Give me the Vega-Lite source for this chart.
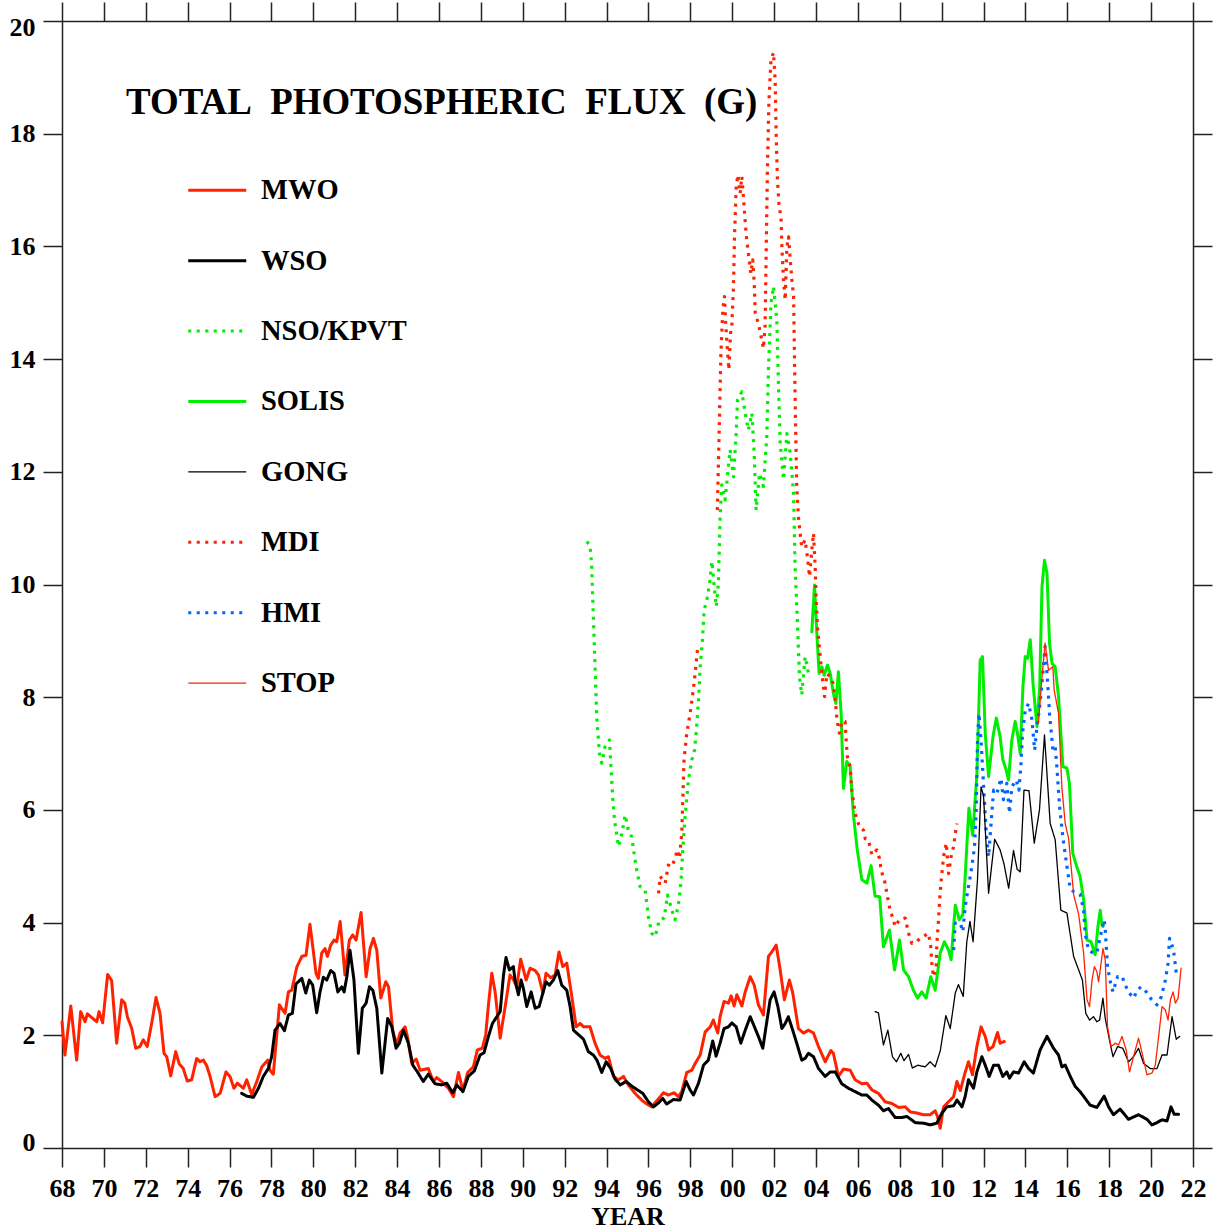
{
"$schema":"https://vega.github.io/schema/vega-lite/v6.json",
"width":1131,"height":1127,
"autosize":{"type":"none"},
"padding":{"left":62,"top":21,"right":25,"bottom":84},
"background":"white",
"title":{"text":"TOTAL\u00a0 PHOTOSPHERIC\u00a0 FLUX\u00a0 (G)","anchor":"start","frame":"group","orient":"top","offset":0,"dx":64,"dy":150,"fontSize":36.9,"font":"Liberation Serif","fontWeight":"bold","color":"#000","baseline":"alphabetic"},
"config":{
"view":{"stroke":null},
"font":"Liberation Serif",
"axis":{"grid":false,"domainColor":"#222","domainWidth":1.5,"tickColor":"#222","tickWidth":1.5,"tickSize":19,"labelFont":"Liberation Serif","labelFontWeight":"bold","labelFontSize":26,"labelColor":"#000","titleFont":"Liberation Serif","titleFontWeight":"bold","titleFontSize":26,"titleColor":"#000","labelFlush":false,"labelOverlap":false},
"legend":{"orient":"none","legendX":126,"legendY":155,"title":null,"symbolType":"stroke","symbolSize":3364,"symbolOffset":15,"labelFont":"Liberation Serif","labelFontWeight":"bold","labelFontSize":28.5,"labelColor":"#000","labelOffset":29.5,"rowPadding":41.4,"padding":0,"labelLimit":400}
},
"data":{"values":[
{"s":"MWO","t":1968.0,"v":2.24},{"s":"MWO","t":1968.14,"v":1.65},{"s":"MWO","t":1968.42,"v":2.52},{"s":"MWO","t":1968.7,"v":1.56},{"s":"MWO","t":1968.89,"v":2.42},{"s":"MWO","t":1969.1,"v":2.24},{"s":"MWO","t":1969.21,"v":2.38},{"s":"MWO","t":1969.66,"v":2.24},{"s":"MWO","t":1969.77,"v":2.42},{"s":"MWO","t":1969.94,"v":2.22},{"s":"MWO","t":1970.18,"v":3.08},{"s":"MWO","t":1970.37,"v":2.97},{"s":"MWO","t":1970.61,"v":1.86},{"s":"MWO","t":1970.85,"v":2.63},{"s":"MWO","t":1971.0,"v":2.57},{"s":"MWO","t":1971.12,"v":2.33},{"s":"MWO","t":1971.33,"v":2.12},{"s":"MWO","t":1971.52,"v":1.77},{"s":"MWO","t":1971.72,"v":1.8},{"s":"MWO","t":1971.88,"v":1.92},{"s":"MWO","t":1972.07,"v":1.8},{"s":"MWO","t":1972.28,"v":2.21},{"s":"MWO","t":1972.49,"v":2.67},{"s":"MWO","t":1972.68,"v":2.39},{"s":"MWO","t":1972.87,"v":1.68},{"s":"MWO","t":1973.0,"v":1.62},{"s":"MWO","t":1973.19,"v":1.28},{"s":"MWO","t":1973.43,"v":1.71},{"s":"MWO","t":1973.6,"v":1.49},{"s":"MWO","t":1973.79,"v":1.41},{"s":"MWO","t":1973.98,"v":1.19},{"s":"MWO","t":1974.19,"v":1.21},{"s":"MWO","t":1974.43,"v":1.59},{"s":"MWO","t":1974.59,"v":1.53},{"s":"MWO","t":1974.75,"v":1.56},{"s":"MWO","t":1974.91,"v":1.46},{"s":"MWO","t":1975.07,"v":1.27},{"s":"MWO","t":1975.31,"v":0.91},{"s":"MWO","t":1975.55,"v":0.97},{"s":"MWO","t":1975.83,"v":1.35},{"s":"MWO","t":1976.02,"v":1.27},{"s":"MWO","t":1976.21,"v":1.06},{"s":"MWO","t":1976.37,"v":1.15},{"s":"MWO","t":1976.66,"v":1.06},{"s":"MWO","t":1976.82,"v":1.21},{"s":"MWO","t":1977.06,"v":0.95},{"s":"MWO","t":1977.3,"v":1.18},{"s":"MWO","t":1977.54,"v":1.44},{"s":"MWO","t":1977.82,"v":1.56},{"s":"MWO","t":1977.93,"v":1.38},{"s":"MWO","t":1978.09,"v":1.31},{"s":"MWO","t":1978.38,"v":2.54},{"s":"MWO","t":1978.65,"v":2.39},{"s":"MWO","t":1978.81,"v":2.77},{"s":"MWO","t":1978.97,"v":2.8},{"s":"MWO","t":1979.21,"v":3.21},{"s":"MWO","t":1979.45,"v":3.4},{"s":"MWO","t":1979.65,"v":3.42},{"s":"MWO","t":1979.84,"v":3.97},{"s":"MWO","t":1980.13,"v":3.1},{"s":"MWO","t":1980.24,"v":3.01},{"s":"MWO","t":1980.4,"v":3.46},{"s":"MWO","t":1980.56,"v":3.54},{"s":"MWO","t":1980.67,"v":3.4},{"s":"MWO","t":1980.83,"v":3.6},{"s":"MWO","t":1980.99,"v":3.69},{"s":"MWO","t":1981.12,"v":3.66},{"s":"MWO","t":1981.28,"v":4.02},{"s":"MWO","t":1981.51,"v":3.07},{"s":"MWO","t":1981.72,"v":3.69},{"s":"MWO","t":1981.88,"v":3.78},{"s":"MWO","t":1982.04,"v":3.69},{"s":"MWO","t":1982.28,"v":4.18},{"s":"MWO","t":1982.52,"v":3.04},{"s":"MWO","t":1982.71,"v":3.54},{"s":"MWO","t":1982.87,"v":3.72},{"s":"MWO","t":1983.03,"v":3.51},{"s":"MWO","t":1983.22,"v":2.66},{"s":"MWO","t":1983.46,"v":2.95},{"s":"MWO","t":1983.59,"v":2.86},{"s":"MWO","t":1983.79,"v":2.09},{"s":"MWO","t":1983.98,"v":1.83},{"s":"MWO","t":1984.14,"v":2.04},{"s":"MWO","t":1984.38,"v":2.15},{"s":"MWO","t":1984.49,"v":1.98},{"s":"MWO","t":1984.7,"v":1.5},{"s":"MWO","t":1984.91,"v":1.58},{"s":"MWO","t":1985.1,"v":1.38},{"s":"MWO","t":1985.49,"v":1.41},{"s":"MWO","t":1985.73,"v":1.18},{"s":"MWO","t":1985.89,"v":1.25},{"s":"MWO","t":1986.13,"v":1.18},{"s":"MWO","t":1986.45,"v":1.06},{"s":"MWO","t":1986.69,"v":0.91},{"s":"MWO","t":1986.93,"v":1.34},{"s":"MWO","t":1987.14,"v":1.02},{"s":"MWO","t":1987.37,"v":1.34},{"s":"MWO","t":1987.64,"v":1.44},{"s":"MWO","t":1987.83,"v":1.74},{"s":"MWO","t":1988.07,"v":1.77},{"s":"MWO","t":1988.23,"v":2.01},{"s":"MWO","t":1988.36,"v":2.54},{"s":"MWO","t":1988.52,"v":3.1},{"s":"MWO","t":1988.68,"v":2.77},{"s":"MWO","t":1988.92,"v":1.95},{"s":"MWO","t":1989.16,"v":2.51},{"s":"MWO","t":1989.39,"v":3.07},{"s":"MWO","t":1989.55,"v":2.99},{"s":"MWO","t":1989.71,"v":2.86},{"s":"MWO","t":1989.9,"v":3.35},{"s":"MWO","t":1990.16,"v":2.98},{"s":"MWO","t":1990.35,"v":3.19},{"s":"MWO","t":1990.59,"v":3.15},{"s":"MWO","t":1990.75,"v":3.07},{"s":"MWO","t":1990.96,"v":2.75},{"s":"MWO","t":1991.11,"v":3.1},{"s":"MWO","t":1991.34,"v":3.02},{"s":"MWO","t":1991.54,"v":3.07},{"s":"MWO","t":1991.73,"v":3.48},{"s":"MWO","t":1991.91,"v":3.22},{"s":"MWO","t":1992.1,"v":3.28},{"s":"MWO","t":1992.34,"v":2.69},{"s":"MWO","t":1992.55,"v":2.15},{"s":"MWO","t":1992.74,"v":2.21},{"s":"MWO","t":1992.9,"v":2.15},{"s":"MWO","t":1993.21,"v":2.15},{"s":"MWO","t":1993.45,"v":1.86},{"s":"MWO","t":1993.69,"v":1.65},{"s":"MWO","t":1993.93,"v":1.59},{"s":"MWO","t":1994.09,"v":1.62},{"s":"MWO","t":1994.33,"v":1.27},{"s":"MWO","t":1994.57,"v":1.21},{"s":"MWO","t":1994.81,"v":1.27},{"s":"MWO","t":1995.04,"v":1.12},{"s":"MWO","t":1995.36,"v":0.97},{"s":"MWO","t":1995.68,"v":0.85},{"s":"MWO","t":1995.92,"v":0.78},{"s":"MWO","t":1996.16,"v":0.73},{"s":"MWO","t":1996.4,"v":0.84},{"s":"MWO","t":1996.72,"v":0.98},{"s":"MWO","t":1996.95,"v":0.94},{"s":"MWO","t":1997.23,"v":0.98},{"s":"MWO","t":1997.43,"v":0.91},{"s":"MWO","t":1997.59,"v":1.0},{"s":"MWO","t":1997.83,"v":1.34},{"s":"MWO","t":1998.07,"v":1.38},{"s":"MWO","t":1998.23,"v":1.5},{"s":"MWO","t":1998.47,"v":1.65},{"s":"MWO","t":1998.71,"v":2.06},{"s":"MWO","t":1998.95,"v":2.15},{"s":"MWO","t":1999.1,"v":2.27},{"s":"MWO","t":1999.31,"v":2.04},{"s":"MWO","t":1999.42,"v":2.33},{"s":"MWO","t":1999.61,"v":2.6},{"s":"MWO","t":1999.82,"v":2.57},{"s":"MWO","t":1999.95,"v":2.7},{"s":"MWO","t":2000.09,"v":2.52},{"s":"MWO","t":2000.22,"v":2.72},{"s":"MWO","t":2000.46,"v":2.52},{"s":"MWO","t":2000.62,"v":2.77},{"s":"MWO","t":2000.86,"v":3.04},{"s":"MWO","t":2001.05,"v":2.89},{"s":"MWO","t":2001.25,"v":2.54},{"s":"MWO","t":2001.49,"v":2.36},{"s":"MWO","t":2001.73,"v":3.4},{"s":"MWO","t":2001.89,"v":3.48},{"s":"MWO","t":2002.1,"v":3.6},{"s":"MWO","t":2002.29,"v":3.16},{"s":"MWO","t":2002.49,"v":2.63},{"s":"MWO","t":2002.73,"v":2.98},{"s":"MWO","t":2002.89,"v":2.75},{"s":"MWO","t":2003.16,"v":2.12},{"s":"MWO","t":2003.4,"v":2.04},{"s":"MWO","t":2003.64,"v":2.09},{"s":"MWO","t":2003.88,"v":2.04},{"s":"MWO","t":2004.12,"v":1.8},{"s":"MWO","t":2004.44,"v":1.53},{"s":"MWO","t":2004.71,"v":1.73},{"s":"MWO","t":2004.83,"v":1.68},{"s":"MWO","t":2005.07,"v":1.27},{"s":"MWO","t":2005.31,"v":1.4},{"s":"MWO","t":2005.63,"v":1.38},{"s":"MWO","t":2005.87,"v":1.21},{"s":"MWO","t":2006.19,"v":1.14},{"s":"MWO","t":2006.43,"v":1.15},{"s":"MWO","t":2006.67,"v":1.03},{"s":"MWO","t":2006.98,"v":0.97},{"s":"MWO","t":2007.3,"v":0.82},{"s":"MWO","t":2007.62,"v":0.79},{"s":"MWO","t":2007.94,"v":0.72},{"s":"MWO","t":2008.26,"v":0.73},{"s":"MWO","t":2008.5,"v":0.64},{"s":"MWO","t":2008.82,"v":0.62},{"s":"MWO","t":2009.13,"v":0.59},{"s":"MWO","t":2009.45,"v":0.59},{"s":"MWO","t":2009.69,"v":0.66},{"s":"MWO","t":2009.8,"v":0.56},{"s":"MWO","t":2009.93,"v":0.35},{"s":"MWO","t":2010.09,"v":0.73},{"s":"MWO","t":2010.33,"v":0.82},{"s":"MWO","t":2010.57,"v":0.91},{"s":"MWO","t":2010.73,"v":1.18},{"s":"MWO","t":2010.89,"v":1.02},{"s":"MWO","t":2011.12,"v":1.34},{"s":"MWO","t":2011.28,"v":1.53},{"s":"MWO","t":2011.47,"v":1.3},{"s":"MWO","t":2011.68,"v":1.8},{"s":"MWO","t":2011.88,"v":2.15},{"s":"MWO","t":2012.08,"v":1.98},{"s":"MWO","t":2012.24,"v":1.74},{"s":"MWO","t":2012.45,"v":1.8},{"s":"MWO","t":2012.67,"v":2.05},{"s":"MWO","t":2012.79,"v":1.86},{"s":"MWO","t":2012.99,"v":1.89},
{"s":"WSO","t":1976.58,"v":0.97},{"s":"WSO","t":1976.82,"v":0.92},{"s":"WSO","t":1977.14,"v":0.9},{"s":"WSO","t":1977.38,"v":1.06},{"s":"WSO","t":1977.61,"v":1.27},{"s":"WSO","t":1977.85,"v":1.41},{"s":"WSO","t":1978.01,"v":1.62},{"s":"WSO","t":1978.17,"v":2.09},{"s":"WSO","t":1978.41,"v":2.21},{"s":"WSO","t":1978.62,"v":2.08},{"s":"WSO","t":1978.81,"v":2.36},{"s":"WSO","t":1979.0,"v":2.39},{"s":"WSO","t":1979.17,"v":2.91},{"s":"WSO","t":1979.45,"v":3.01},{"s":"WSO","t":1979.64,"v":2.75},{"s":"WSO","t":1979.81,"v":2.98},{"s":"WSO","t":1979.97,"v":2.89},{"s":"WSO","t":1980.16,"v":2.4},{"s":"WSO","t":1980.32,"v":2.77},{"s":"WSO","t":1980.48,"v":3.03},{"s":"WSO","t":1980.64,"v":2.98},{"s":"WSO","t":1980.83,"v":3.15},{"s":"WSO","t":1980.99,"v":3.1},{"s":"WSO","t":1981.17,"v":2.77},{"s":"WSO","t":1981.36,"v":2.86},{"s":"WSO","t":1981.47,"v":2.77},{"s":"WSO","t":1981.6,"v":3.04},{"s":"WSO","t":1981.75,"v":3.51},{"s":"WSO","t":1981.94,"v":2.98},{"s":"WSO","t":1982.15,"v":1.68},{"s":"WSO","t":1982.34,"v":2.48},{"s":"WSO","t":1982.52,"v":2.57},{"s":"WSO","t":1982.68,"v":2.86},{"s":"WSO","t":1982.84,"v":2.8},{"s":"WSO","t":1983.03,"v":2.48},{"s":"WSO","t":1983.27,"v":1.33},{"s":"WSO","t":1983.55,"v":2.3},{"s":"WSO","t":1983.75,"v":2.15},{"s":"WSO","t":1983.95,"v":1.77},{"s":"WSO","t":1984.11,"v":1.86},{"s":"WSO","t":1984.3,"v":2.09},{"s":"WSO","t":1984.54,"v":1.86},{"s":"WSO","t":1984.75,"v":1.47},{"s":"WSO","t":1984.97,"v":1.35},{"s":"WSO","t":1985.25,"v":1.18},{"s":"WSO","t":1985.49,"v":1.31},{"s":"WSO","t":1985.81,"v":1.14},{"s":"WSO","t":1986.13,"v":1.12},{"s":"WSO","t":1986.37,"v":1.15},{"s":"WSO","t":1986.66,"v":0.98},{"s":"WSO","t":1986.85,"v":1.12},{"s":"WSO","t":1987.14,"v":1.0},{"s":"WSO","t":1987.4,"v":1.27},{"s":"WSO","t":1987.69,"v":1.37},{"s":"WSO","t":1987.96,"v":1.65},{"s":"WSO","t":1988.15,"v":1.69},{"s":"WSO","t":1988.36,"v":1.98},{"s":"WSO","t":1988.55,"v":2.21},{"s":"WSO","t":1988.76,"v":2.33},{"s":"WSO","t":1988.92,"v":2.42},{"s":"WSO","t":1989.08,"v":3.07},{"s":"WSO","t":1989.2,"v":3.38},{"s":"WSO","t":1989.36,"v":3.16},{"s":"WSO","t":1989.55,"v":3.22},{"s":"WSO","t":1989.63,"v":2.98},{"s":"WSO","t":1989.79,"v":2.72},{"s":"WSO","t":1989.92,"v":2.98},{"s":"WSO","t":1990.03,"v":2.83},{"s":"WSO","t":1990.19,"v":2.51},{"s":"WSO","t":1990.4,"v":2.77},{"s":"WSO","t":1990.59,"v":2.48},{"s":"WSO","t":1990.78,"v":2.51},{"s":"WSO","t":1990.96,"v":2.75},{"s":"WSO","t":1991.11,"v":2.95},{"s":"WSO","t":1991.27,"v":2.89},{"s":"WSO","t":1991.46,"v":2.98},{"s":"WSO","t":1991.67,"v":3.15},{"s":"WSO","t":1991.86,"v":2.89},{"s":"WSO","t":1992.1,"v":2.8},{"s":"WSO","t":1992.26,"v":2.51},{"s":"WSO","t":1992.42,"v":2.09},{"s":"WSO","t":1992.66,"v":2.01},{"s":"WSO","t":1992.9,"v":1.93},{"s":"WSO","t":1993.13,"v":1.71},{"s":"WSO","t":1993.37,"v":1.65},{"s":"WSO","t":1993.54,"v":1.56},{"s":"WSO","t":1993.77,"v":1.34},{"s":"WSO","t":1993.98,"v":1.53},{"s":"WSO","t":1994.2,"v":1.41},{"s":"WSO","t":1994.41,"v":1.22},{"s":"WSO","t":1994.65,"v":1.12},{"s":"WSO","t":1994.93,"v":1.18},{"s":"WSO","t":1995.2,"v":1.1},{"s":"WSO","t":1995.44,"v":1.04},{"s":"WSO","t":1995.73,"v":0.97},{"s":"WSO","t":1996.0,"v":0.82},{"s":"WSO","t":1996.24,"v":0.73},{"s":"WSO","t":1996.48,"v":0.8},{"s":"WSO","t":1996.68,"v":0.88},{"s":"WSO","t":1996.87,"v":0.78},{"s":"WSO","t":1997.19,"v":0.86},{"s":"WSO","t":1997.51,"v":0.85},{"s":"WSO","t":1997.8,"v":1.18},{"s":"WSO","t":1997.99,"v":1.03},{"s":"WSO","t":1998.15,"v":0.94},{"s":"WSO","t":1998.39,"v":1.15},{"s":"WSO","t":1998.63,"v":1.47},{"s":"WSO","t":1998.86,"v":1.56},{"s":"WSO","t":1999.07,"v":1.9},{"s":"WSO","t":1999.23,"v":1.63},{"s":"WSO","t":1999.42,"v":1.86},{"s":"WSO","t":1999.61,"v":2.12},{"s":"WSO","t":1999.82,"v":2.15},{"s":"WSO","t":1999.98,"v":2.22},{"s":"WSO","t":2000.19,"v":2.15},{"s":"WSO","t":2000.41,"v":1.86},{"s":"WSO","t":2000.62,"v":2.09},{"s":"WSO","t":2000.86,"v":2.33},{"s":"WSO","t":2001.06,"v":2.15},{"s":"WSO","t":2001.25,"v":1.98},{"s":"WSO","t":2001.46,"v":1.77},{"s":"WSO","t":2001.65,"v":2.24},{"s":"WSO","t":2001.81,"v":2.63},{"s":"WSO","t":2002.0,"v":2.77},{"s":"WSO","t":2002.18,"v":2.51},{"s":"WSO","t":2002.37,"v":2.12},{"s":"WSO","t":2002.53,"v":2.21},{"s":"WSO","t":2002.68,"v":2.33},{"s":"WSO","t":2002.89,"v":2.09},{"s":"WSO","t":2003.08,"v":1.86},{"s":"WSO","t":2003.32,"v":1.56},{"s":"WSO","t":2003.48,"v":1.59},{"s":"WSO","t":2003.64,"v":1.68},{"s":"WSO","t":2003.88,"v":1.62},{"s":"WSO","t":2004.12,"v":1.41},{"s":"WSO","t":2004.44,"v":1.27},{"s":"WSO","t":2004.68,"v":1.35},{"s":"WSO","t":2004.92,"v":1.35},{"s":"WSO","t":2005.23,"v":1.14},{"s":"WSO","t":2005.55,"v":1.06},{"s":"WSO","t":2005.87,"v":1.0},{"s":"WSO","t":2006.19,"v":0.94},{"s":"WSO","t":2006.43,"v":0.94},{"s":"WSO","t":2006.67,"v":0.85},{"s":"WSO","t":2006.98,"v":0.76},{"s":"WSO","t":2007.22,"v":0.66},{"s":"WSO","t":2007.46,"v":0.7},{"s":"WSO","t":2007.78,"v":0.54},{"s":"WSO","t":2008.1,"v":0.54},{"s":"WSO","t":2008.34,"v":0.56},{"s":"WSO","t":2008.74,"v":0.45},{"s":"WSO","t":2009.13,"v":0.44},{"s":"WSO","t":2009.45,"v":0.41},{"s":"WSO","t":2009.77,"v":0.44},{"s":"WSO","t":2010.01,"v":0.62},{"s":"WSO","t":2010.25,"v":0.73},{"s":"WSO","t":2010.57,"v":0.75},{"s":"WSO","t":2010.73,"v":0.85},{"s":"WSO","t":2010.97,"v":0.73},{"s":"WSO","t":2011.12,"v":0.91},{"s":"WSO","t":2011.28,"v":1.21},{"s":"WSO","t":2011.52,"v":1.06},{"s":"WSO","t":2011.68,"v":1.35},{"s":"WSO","t":2011.92,"v":1.62},{"s":"WSO","t":2012.08,"v":1.47},{"s":"WSO","t":2012.27,"v":1.27},{"s":"WSO","t":2012.48,"v":1.47},{"s":"WSO","t":2012.71,"v":1.47},{"s":"WSO","t":2012.92,"v":1.27},{"s":"WSO","t":2013.11,"v":1.35},{"s":"WSO","t":2013.24,"v":1.24},{"s":"WSO","t":2013.43,"v":1.35},{"s":"WSO","t":2013.67,"v":1.33},{"s":"WSO","t":2013.94,"v":1.53},{"s":"WSO","t":2014.15,"v":1.41},{"s":"WSO","t":2014.38,"v":1.33},{"s":"WSO","t":2014.7,"v":1.74},{"s":"WSO","t":2015.03,"v":1.98},{"s":"WSO","t":2015.34,"v":1.77},{"s":"WSO","t":2015.58,"v":1.65},{"s":"WSO","t":2015.74,"v":1.44},{"s":"WSO","t":2015.9,"v":1.47},{"s":"WSO","t":2016.14,"v":1.27},{"s":"WSO","t":2016.38,"v":1.09},{"s":"WSO","t":2016.61,"v":1.0},{"s":"WSO","t":2016.85,"v":0.88},{"s":"WSO","t":2017.09,"v":0.76},{"s":"WSO","t":2017.41,"v":0.72},{"s":"WSO","t":2017.76,"v":0.92},{"s":"WSO","t":2017.97,"v":0.73},{"s":"WSO","t":2018.2,"v":0.59},{"s":"WSO","t":2018.52,"v":0.69},{"s":"WSO","t":2018.92,"v":0.51},{"s":"WSO","t":2019.4,"v":0.59},{"s":"WSO","t":2019.8,"v":0.51},{"s":"WSO","t":2020.04,"v":0.41},{"s":"WSO","t":2020.28,"v":0.45},{"s":"WSO","t":2020.52,"v":0.5},{"s":"WSO","t":2020.76,"v":0.48},{"s":"WSO","t":2020.95,"v":0.73},{"s":"WSO","t":2021.1,"v":0.6},{"s":"WSO","t":2021.31,"v":0.6},
{"s":"NSO/KPVT","t":1993.05,"v":10.76},{"s":"NSO/KPVT","t":1993.21,"v":10.7},{"s":"NSO/KPVT","t":1993.29,"v":10.32},{"s":"NSO/KPVT","t":1993.37,"v":9.43},{"s":"NSO/KPVT","t":1993.45,"v":8.54},{"s":"NSO/KPVT","t":1993.53,"v":7.65},{"s":"NSO/KPVT","t":1993.66,"v":7.0},{"s":"NSO/KPVT","t":1993.77,"v":6.83},{"s":"NSO/KPVT","t":1993.93,"v":7.12},{"s":"NSO/KPVT","t":1994.14,"v":7.24},{"s":"NSO/KPVT","t":1994.2,"v":6.83},{"s":"NSO/KPVT","t":1994.3,"v":6.18},{"s":"NSO/KPVT","t":1994.38,"v":5.82},{"s":"NSO/KPVT","t":1994.57,"v":5.35},{"s":"NSO/KPVT","t":1994.73,"v":5.58},{"s":"NSO/KPVT","t":1994.89,"v":5.91},{"s":"NSO/KPVT","t":1995.04,"v":5.64},{"s":"NSO/KPVT","t":1995.2,"v":5.52},{"s":"NSO/KPVT","t":1995.41,"v":4.99},{"s":"NSO/KPVT","t":1995.6,"v":4.64},{"s":"NSO/KPVT","t":1995.84,"v":4.58},{"s":"NSO/KPVT","t":1996.0,"v":4.1},{"s":"NSO/KPVT","t":1996.16,"v":3.81},{"s":"NSO/KPVT","t":1996.32,"v":3.75},{"s":"NSO/KPVT","t":1996.52,"v":4.05},{"s":"NSO/KPVT","t":1996.75,"v":4.08},{"s":"NSO/KPVT","t":1996.91,"v":4.49},{"s":"NSO/KPVT","t":1997.12,"v":4.22},{"s":"NSO/KPVT","t":1997.27,"v":4.05},{"s":"NSO/KPVT","t":1997.43,"v":4.31},{"s":"NSO/KPVT","t":1997.55,"v":4.7},{"s":"NSO/KPVT","t":1997.64,"v":5.29},{"s":"NSO/KPVT","t":1997.75,"v":5.88},{"s":"NSO/KPVT","t":1997.91,"v":6.53},{"s":"NSO/KPVT","t":1998.07,"v":6.89},{"s":"NSO/KPVT","t":1998.18,"v":7.0},{"s":"NSO/KPVT","t":1998.28,"v":7.36},{"s":"NSO/KPVT","t":1998.39,"v":7.95},{"s":"NSO/KPVT","t":1998.47,"v":8.54},{"s":"NSO/KPVT","t":1998.58,"v":9.02},{"s":"NSO/KPVT","t":1998.66,"v":9.55},{"s":"NSO/KPVT","t":1998.79,"v":9.73},{"s":"NSO/KPVT","t":1998.92,"v":10.02},{"s":"NSO/KPVT","t":1999.03,"v":10.41},{"s":"NSO/KPVT","t":1999.14,"v":9.96},{"s":"NSO/KPVT","t":1999.24,"v":9.61},{"s":"NSO/KPVT","t":1999.34,"v":10.02},{"s":"NSO/KPVT","t":1999.42,"v":11.18},{"s":"NSO/KPVT","t":1999.5,"v":11.77},{"s":"NSO/KPVT","t":1999.66,"v":11.5},{"s":"NSO/KPVT","t":1999.9,"v":12.39},{"s":"NSO/KPVT","t":2000.06,"v":11.91},{"s":"NSO/KPVT","t":2000.19,"v":12.68},{"s":"NSO/KPVT","t":2000.25,"v":13.27},{"s":"NSO/KPVT","t":2000.46,"v":13.42},{"s":"NSO/KPVT","t":2000.62,"v":13.04},{"s":"NSO/KPVT","t":2000.77,"v":12.74},{"s":"NSO/KPVT","t":2000.94,"v":13.04},{"s":"NSO/KPVT","t":2001.05,"v":12.33},{"s":"NSO/KPVT","t":2001.14,"v":11.32},{"s":"NSO/KPVT","t":2001.3,"v":11.97},{"s":"NSO/KPVT","t":2001.49,"v":11.74},{"s":"NSO/KPVT","t":2001.65,"v":12.62},{"s":"NSO/KPVT","t":2001.73,"v":13.81},{"s":"NSO/KPVT","t":2001.85,"v":14.99},{"s":"NSO/KPVT","t":2001.97,"v":15.29},{"s":"NSO/KPVT","t":2002.13,"v":14.69},{"s":"NSO/KPVT","t":2002.21,"v":13.51},{"s":"NSO/KPVT","t":2002.29,"v":12.51},{"s":"NSO/KPVT","t":2002.45,"v":11.86},{"s":"NSO/KPVT","t":2002.61,"v":12.68},{"s":"NSO/KPVT","t":2002.77,"v":12.33},{"s":"NSO/KPVT","t":2002.93,"v":11.62},{"s":"NSO/KPVT","t":2003.0,"v":10.32},{"s":"NSO/KPVT","t":2003.12,"v":9.25},{"s":"NSO/KPVT","t":2003.21,"v":8.36},{"s":"NSO/KPVT","t":2003.32,"v":8.04},{"s":"NSO/KPVT","t":2003.48,"v":8.72},{"s":"NSO/KPVT","t":2003.64,"v":8.42},
{"s":"SOLIS","t":2003.8,"v":9.16},{"s":"SOLIS","t":2003.93,"v":9.99},{"s":"SOLIS","t":2004.04,"v":9.13},{"s":"SOLIS","t":2004.15,"v":8.42},{"s":"SOLIS","t":2004.28,"v":8.54},{"s":"SOLIS","t":2004.39,"v":8.39},{"s":"SOLIS","t":2004.55,"v":8.57},{"s":"SOLIS","t":2004.68,"v":8.42},{"s":"SOLIS","t":2004.83,"v":8.07},{"s":"SOLIS","t":2004.95,"v":7.89},{"s":"SOLIS","t":2005.07,"v":8.45},{"s":"SOLIS","t":2005.2,"v":7.71},{"s":"SOLIS","t":2005.31,"v":6.38},{"s":"SOLIS","t":2005.47,"v":6.86},{"s":"SOLIS","t":2005.63,"v":6.77},{"s":"SOLIS","t":2005.79,"v":5.9},{"s":"SOLIS","t":2005.97,"v":5.29},{"s":"SOLIS","t":2006.19,"v":4.76},{"s":"SOLIS","t":2006.43,"v":4.7},{"s":"SOLIS","t":2006.63,"v":5.01},{"s":"SOLIS","t":2006.82,"v":4.47},{"s":"SOLIS","t":2007.04,"v":4.46},{"s":"SOLIS","t":2007.22,"v":3.57},{"s":"SOLIS","t":2007.51,"v":3.87},{"s":"SOLIS","t":2007.75,"v":3.16},{"s":"SOLIS","t":2007.99,"v":3.69},{"s":"SOLIS","t":2008.18,"v":3.16},{"s":"SOLIS","t":2008.42,"v":3.04},{"s":"SOLIS","t":2008.65,"v":2.8},{"s":"SOLIS","t":2008.85,"v":2.66},{"s":"SOLIS","t":2009.05,"v":2.77},{"s":"SOLIS","t":2009.26,"v":2.66},{"s":"SOLIS","t":2009.48,"v":3.04},{"s":"SOLIS","t":2009.69,"v":2.8},{"s":"SOLIS","t":2009.93,"v":3.46},{"s":"SOLIS","t":2010.13,"v":3.66},{"s":"SOLIS","t":2010.33,"v":3.51},{"s":"SOLIS","t":2010.45,"v":3.34},{"s":"SOLIS","t":2010.65,"v":4.31},{"s":"SOLIS","t":2010.84,"v":4.05},{"s":"SOLIS","t":2011.01,"v":4.14},{"s":"SOLIS","t":2011.12,"v":4.8},{"s":"SOLIS","t":2011.3,"v":6.03},{"s":"SOLIS","t":2011.48,"v":5.55},{"s":"SOLIS","t":2011.68,"v":6.62},{"s":"SOLIS","t":2011.84,"v":8.66},{"s":"SOLIS","t":2011.95,"v":8.72},{"s":"SOLIS","t":2012.08,"v":7.36},{"s":"SOLIS","t":2012.24,"v":6.59},{"s":"SOLIS","t":2012.45,"v":7.3},{"s":"SOLIS","t":2012.61,"v":7.63},{"s":"SOLIS","t":2012.79,"v":7.3},{"s":"SOLIS","t":2012.92,"v":6.89},{"s":"SOLIS","t":2013.08,"v":6.71},{"s":"SOLIS","t":2013.19,"v":6.53},{"s":"SOLIS","t":2013.35,"v":7.24},{"s":"SOLIS","t":2013.51,"v":7.57},{"s":"SOLIS","t":2013.62,"v":7.36},{"s":"SOLIS","t":2013.75,"v":7.0},{"s":"SOLIS","t":2013.88,"v":8.19},{"s":"SOLIS","t":2013.99,"v":8.72},{"s":"SOLIS","t":2014.1,"v":8.69},{"s":"SOLIS","t":2014.23,"v":9.02},{"s":"SOLIS","t":2014.36,"v":8.25},{"s":"SOLIS","t":2014.55,"v":7.48},{"s":"SOLIS","t":2014.68,"v":8.19},{"s":"SOLIS","t":2014.79,"v":9.96},{"s":"SOLIS","t":2014.91,"v":10.43},{"s":"SOLIS","t":2015.03,"v":10.2},{"s":"SOLIS","t":2015.15,"v":8.96},{"s":"SOLIS","t":2015.27,"v":8.6},{"s":"SOLIS","t":2015.42,"v":8.54},{"s":"SOLIS","t":2015.58,"v":8.01},{"s":"SOLIS","t":2015.79,"v":6.77},{"s":"SOLIS","t":2015.98,"v":6.74},{"s":"SOLIS","t":2016.1,"v":6.47},{"s":"SOLIS","t":2016.26,"v":5.23},{"s":"SOLIS","t":2016.45,"v":4.99},{"s":"SOLIS","t":2016.61,"v":4.82},{"s":"SOLIS","t":2016.78,"v":4.4},{"s":"SOLIS","t":2016.94,"v":3.69},{"s":"SOLIS","t":2017.13,"v":3.66},{"s":"SOLIS","t":2017.33,"v":3.43},{"s":"SOLIS","t":2017.46,"v":3.93},{"s":"SOLIS","t":2017.57,"v":4.22},{"s":"SOLIS","t":2017.65,"v":3.96},{"s":"SOLIS","t":2017.7,"v":3.93},
{"s":"GONG","t":2006.82,"v":2.42},{"s":"GONG","t":2006.98,"v":2.4},{"s":"GONG","t":2007.22,"v":1.83},{"s":"GONG","t":2007.43,"v":2.09},{"s":"GONG","t":2007.65,"v":1.62},{"s":"GONG","t":2007.84,"v":1.53},{"s":"GONG","t":2008.05,"v":1.68},{"s":"GONG","t":2008.2,"v":1.55},{"s":"GONG","t":2008.42,"v":1.66},{"s":"GONG","t":2008.6,"v":1.42},{"s":"GONG","t":2008.87,"v":1.47},{"s":"GONG","t":2009.21,"v":1.44},{"s":"GONG","t":2009.45,"v":1.53},{"s":"GONG","t":2009.69,"v":1.44},{"s":"GONG","t":2009.93,"v":1.72},{"s":"GONG","t":2010.2,"v":2.35},{"s":"GONG","t":2010.41,"v":2.12},{"s":"GONG","t":2010.65,"v":2.75},{"s":"GONG","t":2010.8,"v":2.9},{"s":"GONG","t":2011.03,"v":2.69},{"s":"GONG","t":2011.2,"v":3.66},{"s":"GONG","t":2011.35,"v":4.02},{"s":"GONG","t":2011.5,"v":3.66},{"s":"GONG","t":2011.71,"v":4.76},{"s":"GONG","t":2011.88,"v":6.41},{"s":"GONG","t":2012.0,"v":6.25},{"s":"GONG","t":2012.24,"v":4.52},{"s":"GONG","t":2012.53,"v":5.48},{"s":"GONG","t":2012.79,"v":5.29},{"s":"GONG","t":2012.97,"v":5.05},{"s":"GONG","t":2013.2,"v":4.61},{"s":"GONG","t":2013.43,"v":5.28},{"s":"GONG","t":2013.6,"v":4.95},{"s":"GONG","t":2013.75,"v":4.9},{"s":"GONG","t":2013.93,"v":6.35},{"s":"GONG","t":2014.17,"v":6.34},{"s":"GONG","t":2014.42,"v":5.41},{"s":"GONG","t":2014.67,"v":6.0},{"s":"GONG","t":2014.91,"v":7.33},{"s":"GONG","t":2015.18,"v":5.76},{"s":"GONG","t":2015.42,"v":5.47},{"s":"GONG","t":2015.69,"v":4.22},{"s":"GONG","t":2015.98,"v":4.17},{"s":"GONG","t":2016.3,"v":3.4},{"s":"GONG","t":2016.6,"v":3.1},{"s":"GONG","t":2016.72,"v":2.98},{"s":"GONG","t":2016.88,"v":2.39},{"s":"GONG","t":2017.06,"v":2.27},{"s":"GONG","t":2017.25,"v":2.33},{"s":"GONG","t":2017.41,"v":2.24},{"s":"GONG","t":2017.54,"v":2.27},{"s":"GONG","t":2017.7,"v":2.66},{"s":"GONG","t":2017.81,"v":2.3},{"s":"GONG","t":2018.01,"v":1.92},{"s":"GONG","t":2018.18,"v":1.62},{"s":"GONG","t":2018.4,"v":1.8},{"s":"GONG","t":2018.65,"v":1.77},{"s":"GONG","t":2018.92,"v":1.53},{"s":"GONG","t":2019.16,"v":1.62},{"s":"GONG","t":2019.4,"v":1.77},{"s":"GONG","t":2019.64,"v":1.5},{"s":"GONG","t":2019.96,"v":1.41},{"s":"GONG","t":2020.28,"v":1.41},{"s":"GONG","t":2020.52,"v":1.65},{"s":"GONG","t":2020.76,"v":1.65},{"s":"GONG","t":2021.0,"v":2.33},{"s":"GONG","t":2021.2,"v":1.93},{"s":"GONG","t":2021.36,"v":1.98},
{"s":"MDI","t":1996.48,"v":4.52},{"s":"MDI","t":1996.56,"v":4.82},{"s":"MDI","t":1996.8,"v":4.7},{"s":"MDI","t":1996.95,"v":5.02},{"s":"MDI","t":1997.12,"v":4.99},{"s":"MDI","t":1997.27,"v":5.14},{"s":"MDI","t":1997.38,"v":5.29},{"s":"MDI","t":1997.48,"v":5.14},{"s":"MDI","t":1997.59,"v":5.58},{"s":"MDI","t":1997.64,"v":6.18},{"s":"MDI","t":1997.7,"v":6.89},{"s":"MDI","t":1997.83,"v":7.36},{"s":"MDI","t":1997.99,"v":7.71},{"s":"MDI","t":1998.12,"v":8.07},{"s":"MDI","t":1998.23,"v":8.42},{"s":"MDI","t":1998.31,"v":8.72},{"s":"MDI","t":1998.34,"v":8.84},{"s":"MDI","t":1998.8,"v":null},{"s":"MDI","t":1999.29,"v":11.32},{"s":"MDI","t":1999.39,"v":12.92},{"s":"MDI","t":1999.46,"v":14.1},{"s":"MDI","t":1999.55,"v":14.87},{"s":"MDI","t":1999.63,"v":15.11},{"s":"MDI","t":1999.68,"v":14.69},{"s":"MDI","t":1999.76,"v":14.22},{"s":"MDI","t":1999.84,"v":13.81},{"s":"MDI","t":1999.92,"v":14.46},{"s":"MDI","t":1999.98,"v":14.58},{"s":"MDI","t":2000.06,"v":15.29},{"s":"MDI","t":2000.11,"v":16.17},{"s":"MDI","t":2000.19,"v":17.06},{"s":"MDI","t":2000.27,"v":17.27},{"s":"MDI","t":2000.38,"v":16.94},{"s":"MDI","t":2000.46,"v":17.24},{"s":"MDI","t":2000.57,"v":16.7},{"s":"MDI","t":2000.66,"v":16.23},{"s":"MDI","t":2000.77,"v":15.88},{"s":"MDI","t":2000.89,"v":15.52},{"s":"MDI","t":2000.98,"v":15.76},{"s":"MDI","t":2001.05,"v":15.35},{"s":"MDI","t":2001.1,"v":14.81},{"s":"MDI","t":2001.25,"v":14.63},{"s":"MDI","t":2001.41,"v":14.34},{"s":"MDI","t":2001.49,"v":14.19},{"s":"MDI","t":2001.57,"v":14.58},{"s":"MDI","t":2001.62,"v":15.88},{"s":"MDI","t":2001.68,"v":17.36},{"s":"MDI","t":2001.75,"v":18.55},{"s":"MDI","t":2001.85,"v":19.31},{"s":"MDI","t":2001.97,"v":19.44},{"s":"MDI","t":2002.05,"v":18.95},{"s":"MDI","t":2002.1,"v":17.95},{"s":"MDI","t":2002.16,"v":17.18},{"s":"MDI","t":2002.24,"v":16.7},{"s":"MDI","t":2002.33,"v":16.53},{"s":"MDI","t":2002.37,"v":16.0},{"s":"MDI","t":2002.45,"v":15.4},{"s":"MDI","t":2002.53,"v":15.05},{"s":"MDI","t":2002.61,"v":16.0},{"s":"MDI","t":2002.69,"v":16.17},{"s":"MDI","t":2002.77,"v":15.76},{"s":"MDI","t":2002.85,"v":15.4},{"s":"MDI","t":2002.93,"v":15.11},{"s":"MDI","t":2002.97,"v":14.1},{"s":"MDI","t":2003.02,"v":12.92},{"s":"MDI","t":2003.08,"v":11.74},{"s":"MDI","t":2003.16,"v":11.2},{"s":"MDI","t":2003.24,"v":10.91},{"s":"MDI","t":2003.32,"v":10.67},{"s":"MDI","t":2003.48,"v":10.79},{"s":"MDI","t":2003.59,"v":10.49},{"s":"MDI","t":2003.69,"v":10.14},{"s":"MDI","t":2003.8,"v":10.61},{"s":"MDI","t":2003.88,"v":10.91},{"s":"MDI","t":2003.96,"v":10.32},{"s":"MDI","t":2004.01,"v":9.73},{"s":"MDI","t":2004.07,"v":9.25},{"s":"MDI","t":2004.17,"v":8.84},{"s":"MDI","t":2004.28,"v":8.42},{"s":"MDI","t":2004.41,"v":8.01},{"s":"MDI","t":2004.52,"v":8.42},{"s":"MDI","t":2004.68,"v":8.36},{"s":"MDI","t":2004.81,"v":8.25},{"s":"MDI","t":2004.92,"v":7.95},{"s":"MDI","t":2005.0,"v":7.6},{"s":"MDI","t":2005.12,"v":7.36},{"s":"MDI","t":2005.24,"v":7.57},{"s":"MDI","t":2005.39,"v":7.57},{"s":"MDI","t":2005.44,"v":7.24},{"s":"MDI","t":2005.5,"v":6.94},{"s":"MDI","t":2005.63,"v":6.77},{"s":"MDI","t":2005.71,"v":6.35},{"s":"MDI","t":2005.87,"v":5.94},{"s":"MDI","t":2006.07,"v":5.7},{"s":"MDI","t":2006.27,"v":5.64},{"s":"MDI","t":2006.35,"v":5.49},{"s":"MDI","t":2006.5,"v":5.47},{"s":"MDI","t":2006.67,"v":5.2},{"s":"MDI","t":2006.9,"v":5.29},{"s":"MDI","t":2007.03,"v":5.14},{"s":"MDI","t":2007.09,"v":4.99},{"s":"MDI","t":2007.19,"v":4.82},{"s":"MDI","t":2007.3,"v":4.7},{"s":"MDI","t":2007.38,"v":4.52},{"s":"MDI","t":2007.54,"v":4.22},{"s":"MDI","t":2007.67,"v":4.08},{"s":"MDI","t":2007.78,"v":3.93},{"s":"MDI","t":2007.99,"v":4.05},{"s":"MDI","t":2008.26,"v":4.08},{"s":"MDI","t":2008.42,"v":3.81},{"s":"MDI","t":2008.58,"v":3.63},{"s":"MDI","t":2008.78,"v":3.66},{"s":"MDI","t":2008.99,"v":3.72},{"s":"MDI","t":2009.37,"v":3.81},{"s":"MDI","t":2009.48,"v":3.57},{"s":"MDI","t":2009.53,"v":3.28},{"s":"MDI","t":2009.61,"v":3.04},{"s":"MDI","t":2009.74,"v":3.22},{"s":"MDI","t":2009.77,"v":3.63},{"s":"MDI","t":2009.85,"v":4.05},{"s":"MDI","t":2009.9,"v":4.4},{"s":"MDI","t":2009.98,"v":4.76},{"s":"MDI","t":2010.09,"v":5.17},{"s":"MDI","t":2010.22,"v":5.41},{"s":"MDI","t":2010.33,"v":4.87},{"s":"MDI","t":2010.45,"v":5.17},{"s":"MDI","t":2010.57,"v":5.35},{"s":"MDI","t":2010.65,"v":5.58},{"s":"MDI","t":2010.73,"v":5.76},
{"s":"HMI","t":2010.57,"v":3.51},{"s":"HMI","t":2010.65,"v":3.99},{"s":"HMI","t":2010.89,"v":3.99},{"s":"HMI","t":2011.01,"v":3.84},{"s":"HMI","t":2011.12,"v":4.28},{"s":"HMI","t":2011.28,"v":4.64},{"s":"HMI","t":2011.44,"v":4.99},{"s":"HMI","t":2011.57,"v":5.35},{"s":"HMI","t":2011.65,"v":6.0},{"s":"HMI","t":2011.71,"v":7.2},{"s":"HMI","t":2011.78,"v":7.71},{"s":"HMI","t":2011.88,"v":7.24},{"s":"HMI","t":2011.95,"v":6.77},{"s":"HMI","t":2012.03,"v":6.23},{"s":"HMI","t":2012.13,"v":5.58},{"s":"HMI","t":2012.24,"v":5.17},{"s":"HMI","t":2012.36,"v":5.76},{"s":"HMI","t":2012.48,"v":6.35},{"s":"HMI","t":2012.64,"v":6.29},{"s":"HMI","t":2012.83,"v":6.56},{"s":"HMI","t":2012.95,"v":6.18},{"s":"HMI","t":2013.11,"v":6.47},{"s":"HMI","t":2013.24,"v":5.94},{"s":"HMI","t":2013.35,"v":6.41},{"s":"HMI","t":2013.56,"v":6.53},{"s":"HMI","t":2013.69,"v":6.35},{"s":"HMI","t":2013.78,"v":6.77},{"s":"HMI","t":2013.86,"v":7.36},{"s":"HMI","t":2013.99,"v":7.77},{"s":"HMI","t":2014.15,"v":7.89},{"s":"HMI","t":2014.31,"v":7.6},{"s":"HMI","t":2014.44,"v":7.06},{"s":"HMI","t":2014.55,"v":7.48},{"s":"HMI","t":2014.68,"v":7.83},{"s":"HMI","t":2014.79,"v":8.25},{"s":"HMI","t":2014.94,"v":8.9},{"s":"HMI","t":2015.07,"v":8.19},{"s":"HMI","t":2015.15,"v":7.71},{"s":"HMI","t":2015.31,"v":7.06},{"s":"HMI","t":2015.42,"v":7.12},{"s":"HMI","t":2015.5,"v":6.77},{"s":"HMI","t":2015.63,"v":6.06},{"s":"HMI","t":2015.79,"v":5.5},{"s":"HMI","t":2015.98,"v":5.0},{"s":"HMI","t":2016.14,"v":4.6},{"s":"HMI","t":2016.3,"v":4.55},{"s":"HMI","t":2016.61,"v":4.5},{"s":"HMI","t":2016.78,"v":4.22},{"s":"HMI","t":2016.85,"v":3.81},{"s":"HMI","t":2017.01,"v":3.51},{"s":"HMI","t":2017.25,"v":3.46},{"s":"HMI","t":2017.41,"v":3.46},{"s":"HMI","t":2017.57,"v":3.75},{"s":"HMI","t":2017.76,"v":4.05},{"s":"HMI","t":2017.81,"v":3.87},{"s":"HMI","t":2017.86,"v":3.57},{"s":"HMI","t":2017.92,"v":3.22},{"s":"HMI","t":2018.05,"v":2.95},{"s":"HMI","t":2018.18,"v":2.77},{"s":"HMI","t":2018.4,"v":3.04},{"s":"HMI","t":2018.61,"v":3.05},{"s":"HMI","t":2018.77,"v":2.89},{"s":"HMI","t":2018.93,"v":2.76},{"s":"HMI","t":2019.17,"v":2.66},{"s":"HMI","t":2019.33,"v":2.8},{"s":"HMI","t":2019.52,"v":2.86},{"s":"HMI","t":2019.77,"v":2.77},{"s":"HMI","t":2020.01,"v":2.64},{"s":"HMI","t":2020.28,"v":2.54},{"s":"HMI","t":2020.49,"v":2.69},{"s":"HMI","t":2020.68,"v":2.98},{"s":"HMI","t":2020.81,"v":3.28},{"s":"HMI","t":2020.88,"v":3.72},{"s":"HMI","t":2021.05,"v":3.54},{"s":"HMI","t":2021.11,"v":3.4},{"s":"HMI","t":2021.2,"v":3.1},{"s":"HMI","t":2021.31,"v":3.16},
{"s":"STOP","t":2014.62,"v":7.54},{"s":"STOP","t":2014.8,"v":8.4},{"s":"STOP","t":2014.94,"v":8.96},{"s":"STOP","t":2015.1,"v":8.48},{"s":"STOP","t":2015.31,"v":8.54},{"s":"STOP","t":2015.37,"v":8.13},{"s":"STOP","t":2015.58,"v":7.71},{"s":"STOP","t":2015.74,"v":6.4},{"s":"STOP","t":2015.9,"v":5.75},{"s":"STOP","t":2016.06,"v":5.5},{"s":"STOP","t":2016.3,"v":4.5},{"s":"STOP","t":2016.54,"v":4.15},{"s":"STOP","t":2016.78,"v":3.45},{"s":"STOP","t":2016.94,"v":2.63},{"s":"STOP","t":2017.06,"v":2.51},{"s":"STOP","t":2017.18,"v":2.98},{"s":"STOP","t":2017.29,"v":3.22},{"s":"STOP","t":2017.41,"v":3.13},{"s":"STOP","t":2017.49,"v":2.95},{"s":"STOP","t":2017.57,"v":3.16},{"s":"STOP","t":2017.7,"v":3.54},{"s":"STOP","t":2017.81,"v":3.34},{"s":"STOP","t":2017.92,"v":2.15},{"s":"STOP","t":2018.09,"v":1.8},{"s":"STOP","t":2018.29,"v":1.86},{"s":"STOP","t":2018.45,"v":1.83},{"s":"STOP","t":2018.61,"v":1.98},{"s":"STOP","t":2018.81,"v":1.74},{"s":"STOP","t":2018.97,"v":1.35},{"s":"STOP","t":2019.2,"v":1.68},{"s":"STOP","t":2019.4,"v":1.95},{"s":"STOP","t":2019.61,"v":1.62},{"s":"STOP","t":2019.8,"v":1.3},{"s":"STOP","t":2020.04,"v":1.33},{"s":"STOP","t":2020.2,"v":1.47},{"s":"STOP","t":2020.36,"v":1.98},{"s":"STOP","t":2020.52,"v":2.51},{"s":"STOP","t":2020.68,"v":2.45},{"s":"STOP","t":2020.81,"v":2.27},{"s":"STOP","t":2020.92,"v":2.63},{"s":"STOP","t":2021.05,"v":2.77},{"s":"STOP","t":2021.16,"v":2.57},{"s":"STOP","t":2021.29,"v":2.66},{"s":"STOP","t":2021.43,"v":3.19}
]},
"encoding":{
"color":{"field":"s","type":"nominal","scale":{"domain":["MWO","WSO","NSO/KPVT","SOLIS","GONG","MDI","HMI","STOP"],"range":["#ff2200","#000000","#00ee00","#00ee00","#000000","#ff2200","#0064ff","#ff2200"]},"legend":{"encode":{"symbols":{"update":{"strokeWidth":{"signal":"indexof(['GONG','STOP'], datum.value) >= 0 ? 1.3 : 3"}}}}}},
"strokeDash":{"field":"s","type":"nominal","scale":{"domain":["MWO","WSO","NSO/KPVT","SOLIS","GONG","MDI","HMI","STOP"],"range":[[1,0],[1,0],[3,5.5],[1,0],[1,0],[3,5.5],[3,5.5],[1,0]]},"legend":{"encode":{"symbols":{"update":{"strokeWidth":{"signal":"indexof(['GONG','STOP'], datum.value) >= 0 ? 1.3 : 3"}}}}}}
},
"layer":[
{"transform":[{"filter":{"field":"s","oneOf":["MWO","WSO","SOLIS"]}}],
"mark":{"type":"line","strokeWidth":3,"strokeCap":"round","strokeJoin":"round"},
"encoding":{
"x":{"field":"t","type":"quantitative","scale":{"domain":[1968,2022],"nice":false,"zero":false},"axis":{"orient":"bottom","values":[1968,1970,1972,1974,1976,1978,1980,1982,1984,1986,1988,1990,1992,1994,1996,1998,2000,2002,2004,2006,2008,2010,2012,2014,2016,2018,2020,2022],"labelExpr":"substring(toString(datum.value), 2, 4)","labelPadding":8,"title":"YEAR","titlePadding":2}},
"y":{"field":"v","type":"quantitative","scale":{"domain":[0,20],"nice":false,"zero":true},"axis":{"orient":"left","values":[0,2,4,6,8,10,12,14,16,18,20],"labelPadding":8,"labelFlush":true,"labelFlushOffset":7,"title":null}}
}},
{"transform":[{"filter":{"field":"s","oneOf":["NSO/KPVT","MDI","HMI"]}}],
"mark":{"type":"line","strokeWidth":3.2,"strokeCap":"butt","strokeJoin":"round"},
"encoding":{
"x":{"field":"t","type":"quantitative","scale":{"domain":[1968,2022],"nice":false,"zero":false},"axis":{"orient":"top","values":[1968,1970,1972,1974,1976,1978,1980,1982,1984,1986,1988,1990,1992,1994,1996,1998,2000,2002,2004,2006,2008,2010,2012,2014,2016,2018,2020,2022],"labels":false,"title":null}},
"y":{"field":"v","type":"quantitative","scale":{"domain":[0,20],"nice":false,"zero":true},"axis":{"orient":"right","values":[0,2,4,6,8,10,12,14,16,18,20],"labels":false,"title":null}}
}},
{"transform":[{"filter":{"field":"s","oneOf":["GONG","STOP"]}}],
"mark":{"type":"line","strokeWidth":1.3,"strokeCap":"round","strokeJoin":"round"},
"encoding":{
"x":{"field":"t","type":"quantitative","scale":{"domain":[1968,2022],"nice":false,"zero":false},"axis":null},
"y":{"field":"v","type":"quantitative","scale":{"domain":[0,20],"nice":false,"zero":true},"axis":null}
}}
]
}
